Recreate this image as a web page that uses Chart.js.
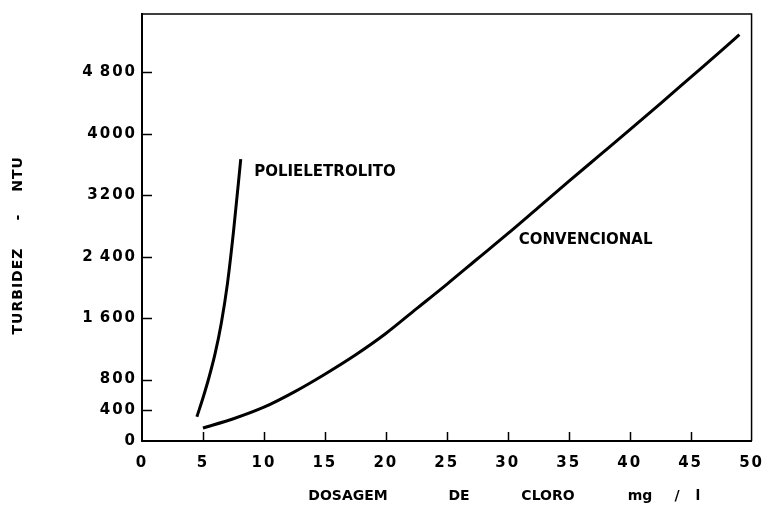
<!DOCTYPE html>
<html>
<head>
<meta charset="utf-8">
<script src="https://cdn.jsdelivr.net/npm/chart.js@4"></script>
<style>
  html, body { margin: 0; padding: 0; background: #fff; }
  #wrap { width: 775px; height: 507px; }
</style>
</head>
<body>
<div id="wrap"><canvas id="c" width="775" height="507"></canvas></div>
<script>
// Chlorine dosage (mg/l) vs. turbidity (NTU)
const doseConv = [5.0, 7.5, 10, 12.5, 15, 17.5, 20, 22.5, 25, 27.5, 30, 32.5, 35, 37.5, 40, 42.5, 45, 47.5, 49.0];
const turbConv = [170, 290, 440, 640, 870, 1120, 1400, 1720, 2040, 2370, 2700, 3040, 3380, 3715, 4050, 4390, 4735, 5080, 5290];

const dosePoli = [4.5, 5.0, 5.5, 6.0, 6.5, 7.0, 7.5, 8.1];
const turbPoli = [315, 560, 830, 1140, 1530, 2040, 2720, 3670];

const xTicks = [0, 5, 10, 15, 20, 25, 30, 35, 40, 45, 50];
const yTicks = [0, 400, 800, 1600, 2400, 3200, 4000, 4800];
const yTickLabels = ['0', '400', '800', '1\u2009600', '2\u2009400', '3200', '4000', '4\u2009800'];

const xTitleWords = ['DOSAGEM', 'DE', 'CLORO', 'mg', '/', 'l'];
const yTitleWords = ['TURBIDEZ', '-', 'NTU'];
const seriesNames = ['CONVENCIONAL', 'POLIELETROLITO'];

const INK = '#000';
const FONT = '"DejaVu Sans", sans-serif';

const toPoints = (xs, ys) => xs.map((x, i) => ({ x: x, y: ys[i] }));

// frame, inward tick marks, series labels and axis titles
const decorations = {
  id: 'decorations',
  beforeDraw(chart) {
    chart.ctx.letterSpacing = '2px';
  },
  afterDraw(chart) {
    const ctx = chart.ctx;
    ctx.letterSpacing = '0px';
    const { left, right, top, bottom } = chart.chartArea;
    const xs = chart.scales.x, ys = chart.scales.y;
    ctx.save();
    ctx.strokeStyle = INK;

    // top and right edges of the frame
    ctx.lineWidth = 1.5;
    ctx.beginPath();
    ctx.moveTo(left, top);
    ctx.lineTo(right, top);
    ctx.lineTo(right, bottom);
    ctx.stroke();

    // tick marks pointing into the plot
    ctx.beginPath();
    yTicks.forEach(v => {
      if (v === 0) return;
      const py = Math.round(ys.getPixelForValue(v)) + 0.5;
      ctx.moveTo(left, py);
      ctx.lineTo(left + 10, py);
    });
    xTicks.forEach(v => {
      if (v === 0 || v === 50) return;
      const px = Math.round(xs.getPixelForValue(v)) + 0.5;
      ctx.moveTo(px, bottom);
      ctx.lineTo(px, bottom - 9);
    });
    ctx.stroke();

    ctx.fillStyle = INK;
    ctx.textBaseline = 'middle';

    // series labels
    ctx.font = 'bold 15px ' + FONT;
    ctx.textAlign = 'left';
    ctx.fillText(seriesNames[1], xs.getPixelForValue(9.2), ys.getPixelForValue(3500));
    ctx.fillText(seriesNames[0], xs.getPixelForValue(30.9), ys.getPixelForValue(2620));

    // x axis title
    ctx.font = 'bold 14px ' + FONT;
    ctx.textAlign = 'center';
    const xTitleCenters = [348, 459, 548, 640, 677, 698];
    xTitleWords.forEach((w, i) => ctx.fillText(w, xTitleCenters[i], 496));

    // y axis title
    ctx.translate(18, 0);
    ctx.rotate(-Math.PI / 2);
    ctx.letterSpacing = '1px';
    const yTitleCenters = [291, 217, 174];
    yTitleWords.forEach((w, i) => ctx.fillText(w, -yTitleCenters[i], 0));
    ctx.restore();
  }
};

new Chart(document.getElementById('c'), {
  type: 'line',
  data: {
    datasets: [
      {
        label: seriesNames[0],
        data: toPoints(doseConv, turbConv),
        borderColor: INK,
        borderWidth: 3,
        pointRadius: 0,
        cubicInterpolationMode: 'monotone',
        fill: false
      },
      {
        label: seriesNames[1],
        data: toPoints(dosePoli, turbPoli),
        borderColor: INK,
        borderWidth: 3,
        pointRadius: 0,
        cubicInterpolationMode: 'monotone',
        fill: false
      }
    ]
  },
  options: {
    responsive: false,
    animation: false,
    events: [],
    layout: { padding: { top: 12, right: 22, left: 0, bottom: 0 } },
    plugins: {
      legend: { display: false },
      tooltip: { enabled: false },
      title: { display: false }
    },
    scales: {
      x: {
        type: 'linear',
        min: 0,
        max: 50,
        afterBuildTicks: s => { s.ticks = xTicks.map(v => ({ value: v })); },
        afterFit: s => { s.height = 66; },
        grid: { display: true, drawOnChartArea: false, drawTicks: false },
        border: { display: true, color: INK, width: 2 },
        ticks: {
          color: INK,
          padding: 13,
          maxRotation: 0,
          autoSkip: false,
          font: { family: FONT, size: 15, weight: 'bold' },
          callback: v => String(v)
        }
      },
      y: {
        type: 'linear',
        min: 0,
        max: 5560,
        afterBuildTicks: s => { s.ticks = yTicks.map(v => ({ value: v })); },
        afterFit: s => { s.width = 142; },
        grid: { display: true, drawOnChartArea: false, drawTicks: false },
        border: { display: true, color: INK, width: 2 },
        ticks: {
          color: INK,
          padding: 5,
          autoSkip: false,
          font: { family: FONT, size: 15, weight: 'bold' },
          callback: v => yTickLabels[yTicks.indexOf(v)]
        }
      }
    }
  },
  plugins: [decorations]
});
</script>
</body>
</html>
